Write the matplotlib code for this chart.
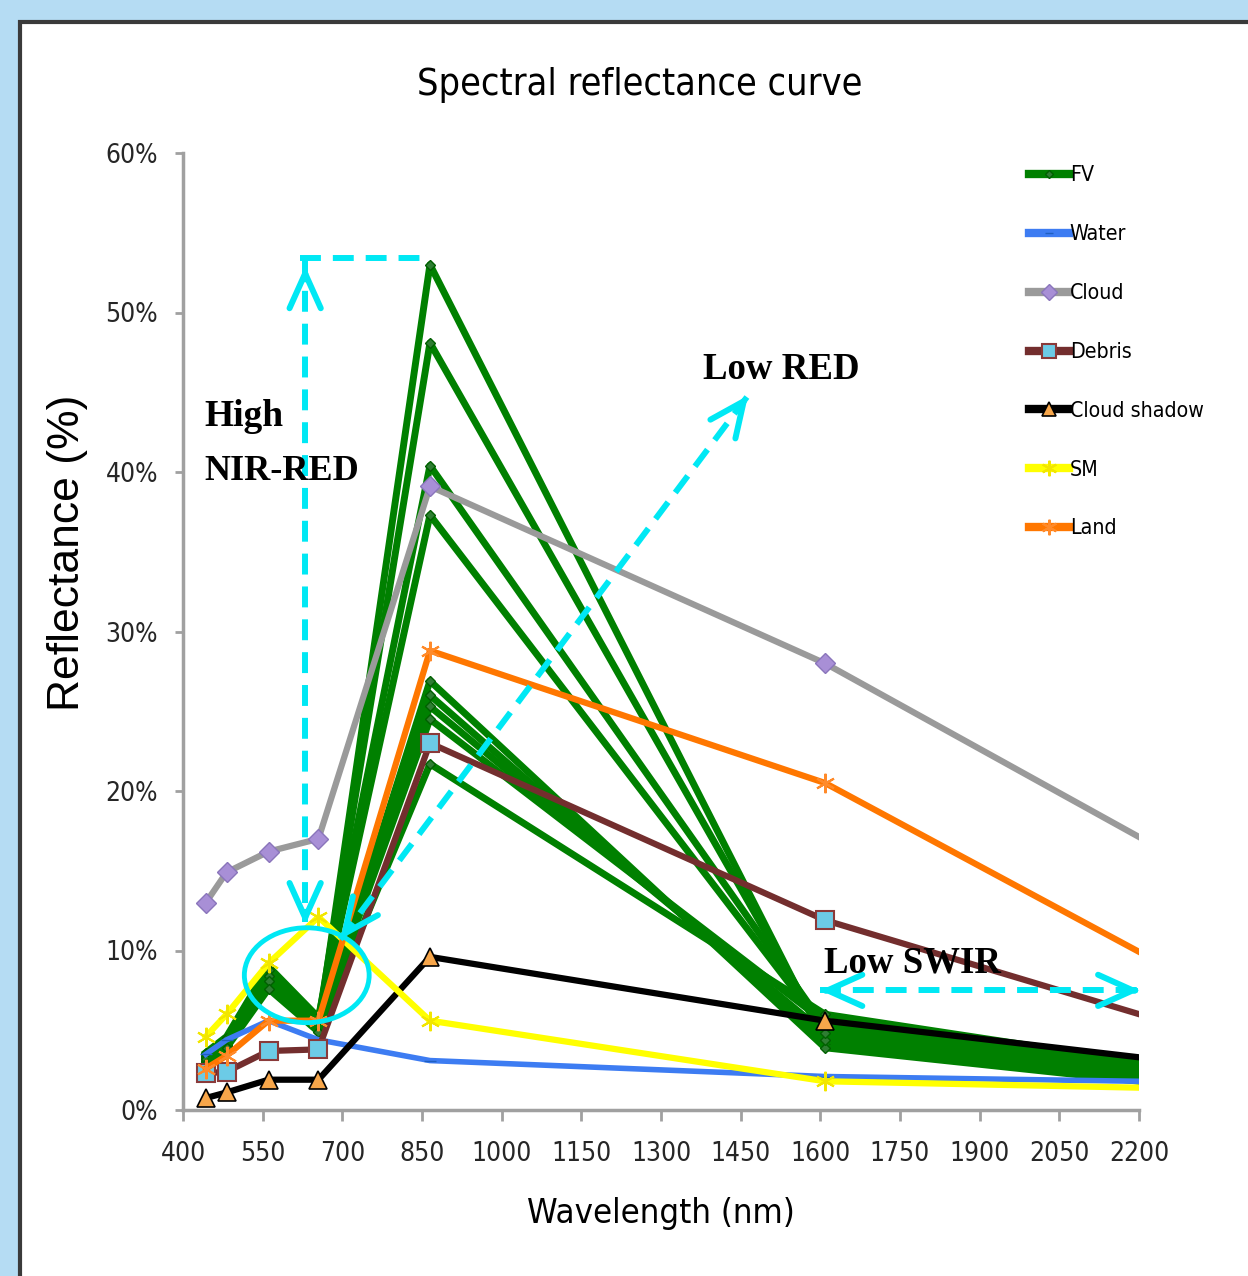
import matplotlib
matplotlib.use("Agg")
import matplotlib.pyplot as plt
from matplotlib import font_manager
from matplotlib.patches import Rectangle, Ellipse
from matplotlib.ticker import FuncFormatter

# dane: dlugosci fal (nm) pasm i odbicie (%) dla kazdej klasy
wavelengths = [443, 482, 561, 655, 865, 1609, 2201]

fv_samples = [
    [3.2, 4.2, 8.2, 5.2, 53.0, 4.2, 2.0],
    [3.4, 4.4, 8.6, 5.6, 48.1, 4.6, 2.2],
    [3.6, 4.6, 9.0, 5.8, 40.4, 5.2, 2.6],
    [3.5, 4.5, 8.8, 5.5, 37.3, 5.0, 2.4],
    [3.0, 4.0, 7.8, 5.0, 26.9, 3.9, 1.8],
    [3.1, 4.1, 8.0, 5.2, 26.0, 4.4, 2.1],
    [3.3, 4.3, 8.4, 5.4, 25.3, 4.8, 2.3],
    [3.2, 4.2, 8.1, 5.1, 24.5, 5.5, 2.8],
    [2.9, 3.9, 7.6, 4.9, 21.7, 6.0, 3.0],
]
water = [3.5, 4.4, 5.6, 4.4, 3.1, 2.1, 1.8]
cloud = [13.0, 14.9, 16.2, 17.0, 39.1, 28.0, 17.1]
debris = [2.3, 2.4, 3.7, 3.8, 23.0, 11.9, 6.0]
cloud_shadow = [0.75, 1.1, 1.9, 1.9, 9.6, 5.6, 3.3]
sm = [4.6, 6.0, 9.2, 12.1, 5.6, 1.8, 1.4]
land = [2.6, 3.4, 5.6, 5.6, 28.8, 20.5, 9.9]

x_ticks = [400, 550, 700, 850, 1000, 1150, 1300, 1450, 1600, 1750, 1900, 2050, 2200]
y_ticks = [0, 10, 20, 30, 40, 50, 60]


# szukanie waskiej czcionki (jesli brak - zwykla Liberation Sans)
def narrow_font():
    for f in font_manager.fontManager.ttflist:
        if f.name == 'Liberation Sans Narrow':
            return dict(family='Liberation Sans Narrow'), 1.0
    for f in font_manager.fontManager.ttflist:
        if f.name == 'DejaVu Sans' and 'Condensed' in f.fname:
            return dict(family='DejaVu Sans', stretch='condensed'), 0.92
    return dict(family='Liberation Sans'), 0.82


NARROW, SCALE = narrow_font()
cyan = '#00e8f4'
# znaczniki bez ostatniego punktu (2201 nm lezy na krawedzi osi)
mk = slice(0, 6)

fig = plt.figure(figsize=(12.48, 12.76), dpi=100, facecolor='#b5dcf3')
# bialy panel z ciemna ramka
panel = Rectangle((20 / 1248, -0.01), 1.0, (1276 - 22) / 1276 + 0.01,
                  transform=fig.transFigure, facecolor='white',
                  edgecolor='#3a3a3a', lw=3, zorder=-5)
fig.patches.append(panel)

ax = fig.add_axes([183 / 1248, 1 - 1110 / 1276, (1139 - 183) / 1248, (1110 - 153) / 1276])
ax.set_facecolor('none')
ax.set_zorder(2)

# FV - wiele probek
for i, vals in enumerate(fv_samples):
    ax.plot(wavelengths, vals, color='#008000', lw=5, marker='D', ms=5, markevery=mk,
            mfc='#2e7d32', mec='#006000', label='FV' if i == 0 else None, zorder=2)
ax.plot(wavelengths, water, color='#3d7cf2', lw=4, marker='_', ms=8, mec='#1f5fc0',
        markevery=mk, label='Water', zorder=3)
ax.plot(wavelengths, cloud, color='#9a9a9a', lw=4.5, marker='D', ms=10, markevery=mk,
        mfc='#a88fd6', mec='#8a75bb', label='Cloud', zorder=3)
ax.plot(wavelengths, debris, color='#732e2e', lw=4.5, marker='s', ms=13, markevery=mk,
        mfc='#6ccbe6', mec='#8a3a3a', mew=1.5, label='Debris', zorder=4)
ax.plot(wavelengths, cloud_shadow, color='black', lw=4.5, marker='^', ms=13, markevery=mk,
        mfc='#f7a64a', mec='black', mew=1.2, label='Cloud shadow', zorder=4)
ax.plot(wavelengths, sm, color='#ffff00', lw=4.5, marker=(6, 2, 0), ms=14, markevery=mk,
        mec='#f2e600', mew=1.5, label='SM', zorder=4)
ax.plot(wavelengths, land, color='#ff7700', lw=4.5, marker=(6, 2, 0), ms=14, markevery=mk,
        mec='#ff8a2a', mew=1.5, label='Land', zorder=5)

ax.set_xlim(400, 2200)
ax.set_ylim(0, 60)
ax.set_xticks(x_ticks)
ax.set_yticks(y_ticks)
ax.yaxis.set_major_formatter(FuncFormatter(lambda v, p: '%d%%' % v))

for s in ['top', 'right']:
    ax.spines[s].set_visible(False)
for s in ['left', 'bottom']:
    ax.spines[s].set_color('#a0a0a0')
    ax.spines[s].set_linewidth(2.5)
ax.tick_params(axis='x', direction='out', length=8, width=2, color='#a0a0a0', pad=14)
ax.tick_params(axis='y', direction='out', length=6, width=2, color='#a0a0a0', pad=12)
for lab in ax.get_xticklabels() + ax.get_yticklabels():
    lab.set_fontproperties(font_manager.FontProperties(size=20.5 * SCALE, **NARROW))
    lab.set_color('#262626')

ax.set_xlabel('Wavelength (nm)', fontsize=27 * SCALE, labelpad=22, **NARROW)
ax.set_ylabel('Reflectance (%)', family='Liberation Sans', fontsize=32)
ax.yaxis.set_label_coords(-0.099, 0.582)
fig.text(640 / 1248, 1 - 85 / 1276, 'Spectral reflectance curve',
         fontsize=29.5 * SCALE, ha='center', va='center', **NARROW)

leg = ax.legend(loc='upper left', bbox_to_anchor=(1021 / 1248, 1 - 157 / 1276),
                bbox_transform=fig.transFigure, frameon=False,
                prop=font_manager.FontProperties(size=16.6 * SCALE, **NARROW),
                handlelength=1.85, handletextpad=0.05,
                labelspacing=1.83, borderaxespad=0, markerscale=0.8)
for h in leg.legend_handles:
    h.set_linewidth(6)


# strzalki przerywane
def dashed(x0, y0, x1, y1):
    ax.plot([x0, x1], [y0, y1], color=cyan, lw=4.3, dashes=(3.5, 2),
            zorder=8, clip_on=False, solid_capstyle='butt', dash_capstyle='butt')


def head(xt, yt, xf, yf):
    # grot na koncu (xt, yt), kierunek od (xf, yf)
    bx = xt - (xt - xf) * 0.02
    by = yt - (yt - yf) * 0.02
    ax.annotate('', xy=(xt, yt), xytext=(bx, by), annotation_clip=False,
                arrowprops=dict(arrowstyle='->,head_length=1.0,head_width=0.45',
                                color=cyan, lw=4.3, mutation_scale=25,
                                shrinkA=0, shrinkB=0), zorder=9)


dashed(620, 53.4, 855, 53.4)
dashed(630, 53.4, 630, 11.8)
head(630, 52.9, 630, 11.8)
head(630, 11.6, 630, 52.9)

dashed(696, 10.7, 1464, 44.8)
head(696, 10.7, 1464, 44.8)
head(1464, 44.8, 696, 10.7)

dashed(1600, 7.5, 2202, 7.5)
head(1600, 7.5, 2202, 7.5)
head(2202, 7.5, 1600, 7.5)

ax.add_patch(Ellipse((633, 8.45), 235, 5.95, fill=False, edgecolor=cyan, lw=3.5,
                     zorder=8))

serif = ['Liberation Serif', 'DejaVu Serif']
ax.text(441, 42.9, 'High', family=serif, weight='bold', fontsize=27, zorder=10)
ax.text(441, 39.5, 'NIR-RED', family=serif, weight='bold', fontsize=26, zorder=10)
ax.text(1379, 45.8, 'Low RED', family=serif, weight='bold', fontsize=26.5, zorder=10)
ax.text(1607, 8.65, 'Low SWIR', family=serif, weight='bold', fontsize=26.5, zorder=10)

fig.savefig('out.png', dpi=100, facecolor=fig.get_facecolor())
